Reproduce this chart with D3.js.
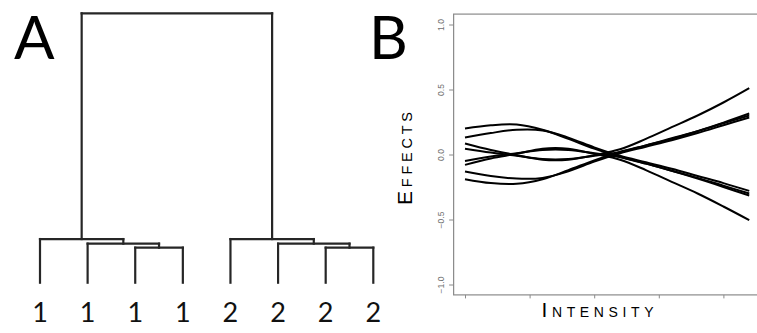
<!DOCTYPE html>
<html>
<head>
<meta charset="utf-8">
<script src="https://cdn.jsdelivr.net/npm/d3@7"></script>
<style>
  body { margin: 0; background: #fff; }
  svg { display: block; }
</style>
</head>
<body>
<svg id="chart" width="757" height="333"></svg>
<script>
// ---- panel A data: leaf labels + merge tree (R style: negative = leaf, positive = earlier merge)
const leafLabels = ["1", "1", "1", "1", "2", "2", "2", "2"];
const merges = [[-3, -4], [-2, 1], [-1, 2], [-7, -8], [-6, 4], [-5, 5], [3, 6]];
const mergeHeights = [1.30, 1.45, 1.62, 1.30, 1.45, 1.62, 10];

// ---- panel B data: effect curves over intensity
const intensity = [0, 0.4, 0.8, 1.2, 1.6, 2.0, 2.4, 2.8, 3.2, 3.6, 4.0, 4.4];
const intensityTicks = [0, 1, 2, 3, 4];
const effectTicks = [-1, -0.5, 0, 0.5, 1];
const effect1 = [0.20, 0.225, 0.23, 0.19, 0.12, 0.045, -0.02, -0.07, -0.125, -0.18, -0.24, -0.30];
const effect2 = [0.13, 0.165, 0.19, 0.185, 0.13, 0.055, -0.01, -0.06, -0.11, -0.165, -0.22, -0.28];
const effect3 = [0.085, 0.035, -0.005, -0.04, -0.04, -0.005, 0.04, 0.12, 0.21, 0.30, 0.40, 0.51];
const effect4 = [0.045, 0.015, -0.01, -0.035, -0.035, -0.01, 0.02, 0.07, 0.12, 0.18, 0.245, 0.315];
const effect5 = [-0.19, -0.22, -0.225, -0.19, -0.12, -0.045, 0.02, 0.07, 0.125, 0.18, 0.24, 0.30];
const effect6 = [-0.13, -0.165, -0.185, -0.18, -0.13, -0.055, 0.01, 0.06, 0.11, 0.165, 0.225, 0.285];
const effect7 = [-0.08, -0.03, 0.005, 0.045, 0.045, 0.005, -0.04, -0.12, -0.21, -0.30, -0.40, -0.505];
const effect8 = [-0.05, -0.015, 0.01, 0.035, 0.035, 0.01, -0.02, -0.07, -0.125, -0.185, -0.25, -0.315];
const effects = [effect1, effect2, effect3, effect4, effect5, effect6, effect7, effect8];

const svg = d3.select("#chart");

// =============== panel A: dendrogram ===============
const leafX = d3.scalePoint().domain(d3.range(leafLabels.length)).range([40, 373.3]);
const hY = d3.scaleLinear().domain([0, 10]).range([282.7, 13.3]);

// build node positions from merge list
const nodes = [];
function nodeOf(ref) {
  if (ref < 0) return { x: leafX(-ref - 1), h: 0 };
  return nodes[ref - 1];
}
const segs = [];
merges.forEach((m, i) => {
  const a = nodeOf(m[0]), b = nodeOf(m[1]);
  const h = mergeHeights[i];
  segs.push([a.x, hY(a.h), a.x, hY(h)]);
  segs.push([b.x, hY(b.h), b.x, hY(h)]);
  segs.push([a.x, hY(h), b.x, hY(h)]);
  nodes.push({ x: (a.x + b.x) / 2, h: h });
});

const gA = svg.append("g");
gA.selectAll("line.branch")
  .data(segs)
  .join("line")
  .attr("class", "branch")
  .attr("x1", d => d[0]).attr("y1", d => d[1])
  .attr("x2", d => d[2]).attr("y2", d => d[3])
  .attr("stroke", "#262626")
  .attr("stroke-width", 2.2)
  .attr("stroke-linecap", "square");

gA.selectAll("text.leaf")
  .data(leafLabels)
  .join("text")
  .attr("class", "leaf")
  .attr("x", (d, i) => leafX(i))
  .attr("y", 321.5)
  .attr("text-anchor", "middle")
  .attr("font-family", "Lato, sans-serif")
  .attr("font-size", 27)
  .attr("fill", "#111")
  .text(d => d);

svg.append("text")
  .attr("x", 14).attr("y", 58.5)
  .attr("font-family", "Lato, sans-serif")
  .attr("font-size", 60)
  .attr("fill", "#000")
  .text("A");

svg.append("text")
  .attr("x", 369).attr("y", 58.5)
  .attr("font-family", "Lato, sans-serif")
  .attr("font-size", 60)
  .attr("fill", "#000")
  .text("B");

// =============== panel B: effect curves ===============
const x = d3.scaleLinear().domain([0, 4]).range([465, 723.4]);
const y = d3.scaleLinear().domain([-1, 1]).range([284.5, 24.5]);
const plotLeft = x(-0.176), plotRight = x(4.576);
const plotTop = y(1.08), plotBottom = y(-1.08);

const gB = svg.append("g");
gB.append("rect")
  .attr("x", plotLeft).attr("y", plotTop)
  .attr("width", plotRight - plotLeft).attr("height", plotBottom - plotTop)
  .attr("fill", "none")
  .attr("stroke", "#8a8a8a")
  .attr("stroke-width", 1.2);

// y axis
const yAxis = gB.append("g")
  .attr("transform", `translate(${plotLeft},0)`)
  .call(d3.axisLeft(y).tickValues(effectTicks).tickSize(4.5).tickFormat(d3.format(".1f")));
yAxis.select(".domain").remove();
yAxis.selectAll("line").attr("stroke", "#8a8a8a").attr("stroke-width", 1);
yAxis.selectAll("text")
  .attr("fill", "#707070")
  .attr("font-family", "'Liberation Sans', Arial, sans-serif")
  .attr("font-size", 8.5)
  .attr("text-anchor", "middle")
  .attr("dy", 0)
  .attr("x", 0)
  .attr("transform", "translate(-9.2,0) rotate(-90)");

// x axis (ticks only, no labels)
const xAxis = gB.append("g")
  .attr("transform", `translate(0,${plotBottom})`)
  .call(d3.axisBottom(x).tickValues(intensityTicks).tickSize(3.5).tickFormat(""));
xAxis.select(".domain").remove();
xAxis.selectAll("line").attr("stroke", "#8a8a8a").attr("stroke-width", 1);

const line = d3.line()
  .x((d, i) => x(intensity[i]))
  .y(d => y(d))
  .curve(d3.curveCatmullRom.alpha(0.5));

gB.selectAll("path.effect")
  .data(effects)
  .join("path")
  .attr("class", "effect")
  .attr("d", line)
  .attr("fill", "none")
  .attr("stroke", "#000")
  .attr("stroke-width", 2);

// axis titles in small caps
const xt = svg.append("text")
  .attr("x", 541.5).attr("y", 316.7)
  .attr("font-family", "'Liberation Sans', Arial, sans-serif")
  .attr("fill", "#000")
  .attr("textLength", 112)
  .attr("lengthAdjust", "spacing");
xt.append("tspan").attr("font-size", 21).text("I");
xt.append("tspan").attr("font-size", 14).text("NTENSITY");

const yt = svg.append("text")
  .attr("transform", "translate(411.7,205) rotate(-90)")
  .attr("font-family", "'Liberation Sans', Arial, sans-serif")
  .attr("fill", "#000")
  .attr("textLength", 93)
  .attr("lengthAdjust", "spacing");
yt.append("tspan").attr("font-size", 21).text("E");
yt.append("tspan").attr("font-size", 14.5).text("FFECTS");
</script>
</body>
</html>
